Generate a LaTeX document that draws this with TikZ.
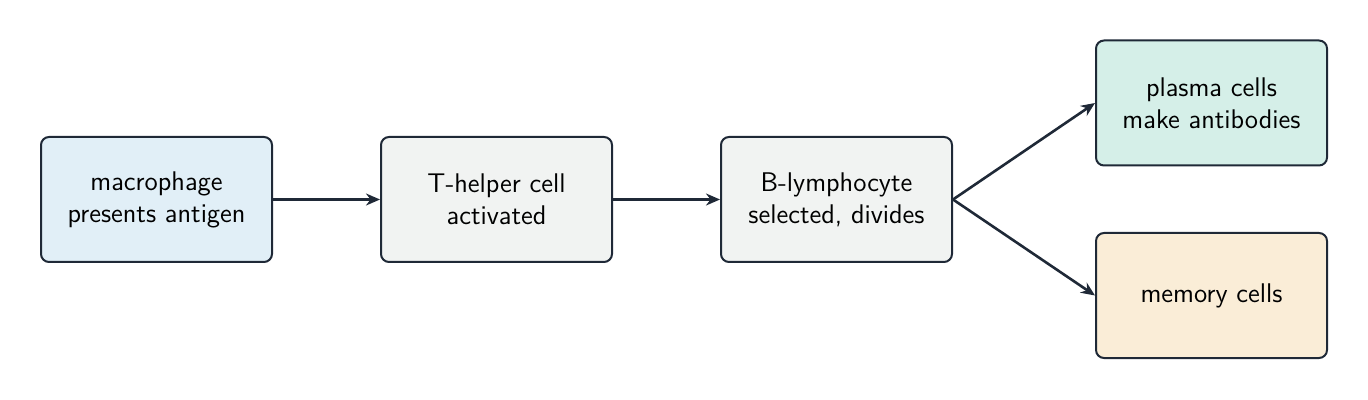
\documentclass[tikz,border=0pt]{standalone}
\usetikzlibrary{arrows.meta}
\definecolor{ink}{HTML}{1F2937}
\definecolor{cblue}{HTML}{E1EFF7}
\definecolor{cgray}{HTML}{F1F3F2}
\definecolor{cgreen}{HTML}{D5EFE8}
\definecolor{corange}{HTML}{FAEDD7}
\begin{document}
\begin{tikzpicture}[x=0.5pt,y=-0.5pt,
  box/.style={draw=ink,line width=1pt,rounded corners=4pt,minimum width=115.5pt,minimum height=62.5pt,align=center,font=\sffamily\fontsize{13.5}{16}\selectfont,inner sep=0pt},
  conn/.style={draw=ink,line width=1.3pt,-{Stealth[length=7pt,width=6pt]}}]
\useasboundingbox (0,0) rectangle (1368,400);
\node[box,fill=cblue] (a) at (156.5,199.5) {macrophage\\presents antigen};
\node[box,fill=cgray] (b) at (496.5,199.5) {T-helper cell\\activated};
\node[box,fill=cgray] (c) at (836.5,199.5) {B-lymphocyte\\selected, divides};
\node[box,fill=cgreen] (d) at (1211.5,103) {plasma cells\\make antibodies};
\node[box,fill=corange] (e) at (1211.5,295.5) {memory cells};
\draw[conn] (a.east) -- (b.west);
\draw[conn] (b.east) -- (c.west);
\draw[conn] (c.east) -- (d.west);
\draw[conn] (c.east) -- (e.west);
\end{tikzpicture}
\end{document}
